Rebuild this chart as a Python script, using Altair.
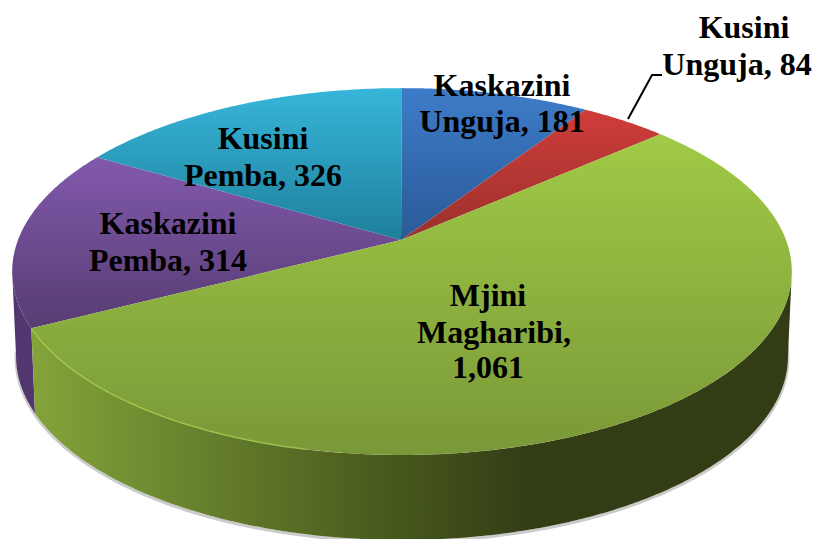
import math
import altair as alt
import pandas as pd

# Data
regions = ["Kaskazini Unguja", "Kusini Unguja", "Mjini Magharibi", "Kaskazini Pemba", "Kusini Pemba"]
values = [181, 84, 1061, 314, 326]
top_colors = [("#3e7cc9", "#2a5a97"), ("#cf3d3a", "#9a302c"), ("#a0ca46", "#7a9838"),
              ("#8259ad", "#573c72"), ("#36b6da", "#1f7f9b")]

label_lines = ["Kaskazini", "Unguja, 181", "Kusini", "Unguja, 84", "Mjini", "Magharibi,", "1,061",
               "Kaskazini", "Pemba, 314", "Kusini", "Pemba, 326"]
label_x = [502, 502, 744, 737, 488, 494, 488, 168, 168, 263, 263]
label_y = [86, 122, 28, 65, 296, 333, 368, 224, 261, 139, 176]

leader_x = [628, 652, 662]
leader_y = [119, 75, 75]

# Perspective view of the disc
CX, CY, A, B, P = 402, 240, 384, 178, 0.172
DEPTH, SHRINK = 85, 0.99
LEFT_EXTREME, RIGHT_EXTREME = 260, 100


def rim(deg, bottom=False):
    t = math.radians(deg)
    u, v = math.sin(t), math.cos(t)
    w = 1 + P * v
    x, y = A * u / w, CY - B * v / w
    if bottom:
        return CX + x * SHRINK, y + DEPTH
    return CX + x, y


def arc(a0, a1, bottom=False):
    n = max(2, int(abs(a1 - a0)) * 2)
    return [rim(a0 + (a1 - a0) * i / n, bottom) for i in range(n + 1)]


def frame(pts):
    return pd.DataFrame({"x": [p[0] for p in pts], "y": [p[1] for p in pts], "i": range(len(pts))})


X = alt.X("x:Q", axis=None, scale=alt.Scale(domain=[8, 812], nice=False, zero=False))
Y = alt.Y("y:Q", axis=None, scale=alt.Scale(domain=[539, 8], nice=False, zero=False))
O = alt.Order("i:Q")


def grad(stops, horizontal=False):
    return alt.Gradient(
        gradient="linear",
        stops=[alt.GradientStop(color=c, offset=o) for c, o in stops],
        x1=0, y1=0, x2=1 if horizontal else 0, y2=0 if horizontal else 1,
    )


def poly(pts, fill):
    return alt.Chart(frame(pts)).mark_line(fill=fill, strokeWidth=0, interpolate="linear").encode(x=X, y=Y, order=O)


total = sum(values)
edges = [0]
for val in values:
    edges.append(edges[-1] + val / total * 360)

layers = []

# soft shadow beneath the wall
layers.append(alt.Chart(frame([(p[0], p[1] + 1.5) for p in arc(95, 262, True)])).mark_line(
    stroke="#b5b5b5", strokeWidth=3, opacity=0.7).encode(x=X, y=Y, order=O))

# walls
a_green1 = edges[3]
layers.append(poly(arc(a_green1, LEFT_EXTREME) + arc(LEFT_EXTREME, a_green1, True), "#523670"))
layers.append(poly(arc(RIGHT_EXTREME, a_green1) + arc(a_green1, RIGHT_EXTREME, True),
                   grad([("#84a43a", 0), ("#5d7428", 0.3), ("#4a5c1e", 0.45), ("#333e15", 0.65), ("#333d15", 1)], True)))

# top surfaces
for k in [3, 4, 0, 1, 2]:
    pts = [(CX - 1, CY)] + arc(edges[k], edges[k + 1])
    layers.append(poly(pts, grad([(top_colors[k][0], 0), (top_colors[k][1], 1)])))

# rim highlight
layers.append(alt.Chart(frame(arc(192, a_green1))).mark_line(
    stroke="#a4cc4c", strokeWidth=1.5, opacity=0.8).encode(x=X, y=Y, order=O))

# leader
layers.append(alt.Chart(pd.DataFrame({"x": leader_x, "y": leader_y, "i": [0, 1, 2]})).mark_line(
    stroke="#000000", strokeWidth=2).encode(x=X, y=Y, order=O))

# labels
layers.append(alt.Chart(pd.DataFrame({"x": label_x, "y": label_y, "t": label_lines})).mark_text(
    font="Liberation Serif", fontWeight="bold", fontSize=32, color="#000000", align="center", baseline="middle"
).encode(x=X, y=Y, text="t:N"))

chart = alt.layer(*layers).properties(
    width=804, height=531, padding=0, autosize=alt.AutoSizeParams(type="none"),
).configure_view(stroke=None)

chart.save("out.html", embed_options={"renderer": "svg", "actions": False})
